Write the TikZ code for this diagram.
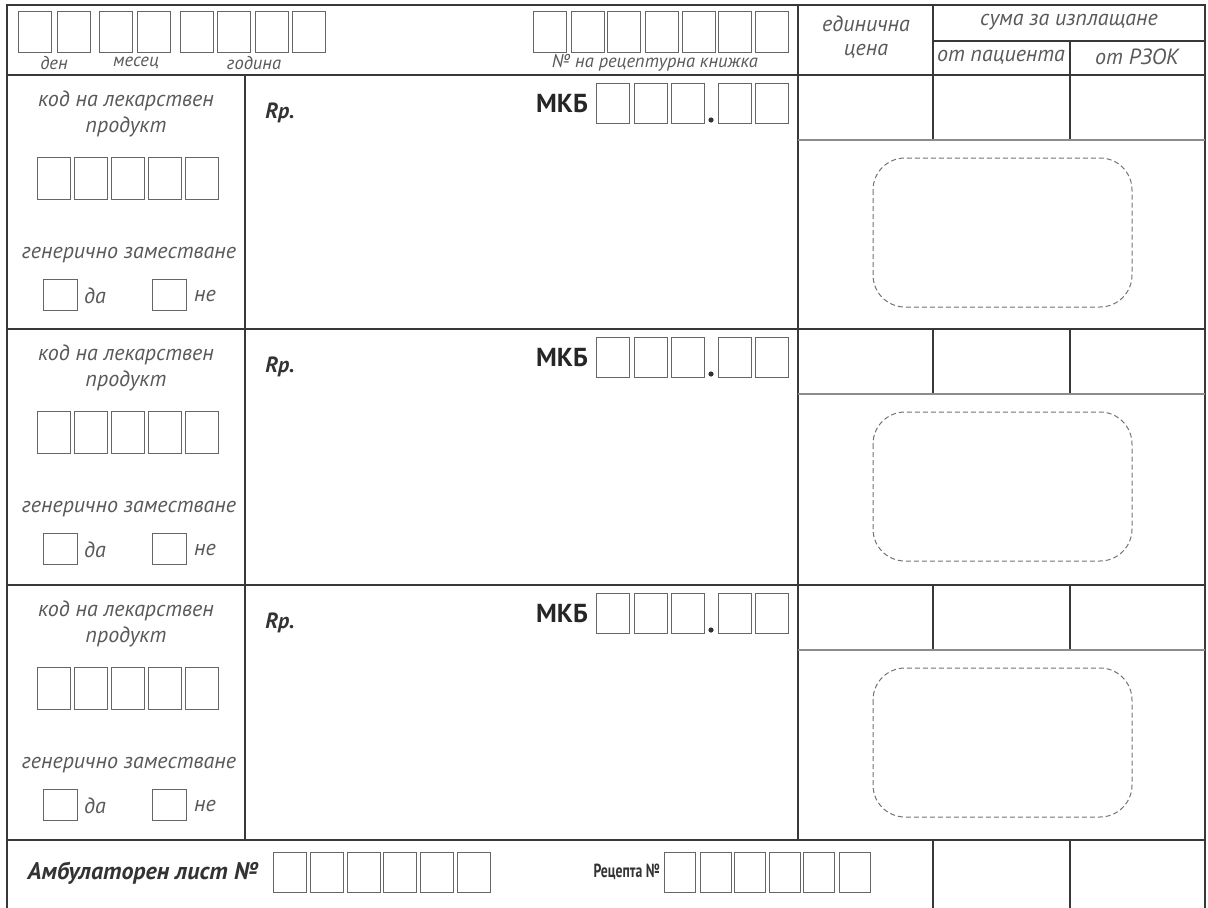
\documentclass[tikz,border=0pt]{standalone}
\usepackage{fontspec}
\setmainfont{PT Sans}
\begin{document}
\begin{tikzpicture}[x=1pt,y=-1pt,
  grid/.style={draw=black!78,line width=1.3pt},
  band/.style={draw=black!45,line width=2.6pt},
  ibox/.style={draw=black!60,line width=1pt,minimum width=33pt,minimum height=41pt,inner sep=0pt,outer sep=0pt},
  rbox/.style={ibox,minimum width=31pt,minimum height=40pt},
  ybox/.style={ibox,minimum width=34pt,minimum height=31pt},
  lbl/.style={font=\fontsize{22}{24}\selectfont\itshape,text=black!65,inner sep=0pt},
  slbl/.style={font=\fontsize{18.5}{20}\selectfont\itshape,text=black!65,inner sep=0pt},
  oval/.style={draw=black!55,line width=1pt,dash pattern=on 5pt off 3pt,rounded corners=32pt}
]
\useasboundingbox (0,0) rectangle (1208,908);
% ---- outer frame and main grid
\draw[grid] (7,908) -- (7,5) -- (1205,5) -- (1205,908);
\draw[grid] (7,75) -- (1205,75);
\draw[grid] (933,41) -- (1205,41);
\draw[grid] (798,5) -- (798,840);
\draw[grid] (933,5) -- (933,75);
\draw[grid] (1070,41) -- (1070,75);
\draw[grid] (245,75) -- (245,840);
\draw[grid] (7,840) -- (1205,840);
\draw[grid] (933,840) -- (933,908);
\draw[grid] (1070,840) -- (1070,908);
% ---- header
\foreach \i/\x in {1/18,2/57,3/99,4/137,5/180,6/217,7/255,8/292}{
  \node[ibox] (d\i) at (\x+16.5,31.5) {};
}
\node[slbl] (lden) at (54,63) {ден};
\node[slbl] (lmes) at (136,63) {месец};
\node[slbl] (lgod) at (254,63) {година};
\foreach \i/\x in {1/533,2/571,3/607,4/645,5/682,6/718,7/755}{
  \node[ibox] (k\i) at (\x+16.5,31.5) {};
}
\node[slbl] (lkn) at (655,63) {№ на рецептурна книжка};
\node[lbl] (led) at (866,24) {единична};
\node[lbl] (lce) at (866,51) {цена};
\node[lbl] (lsu) at (1069,22) {сума за изплащане};
\node[lbl] (lpa) at (1001,57) {от пациента};
\node[lbl] (lrz) at (1137,57) {от РЗОК};
% ---- three prescription rows
\foreach \r/\t/\b in {1/75/329,2/329/585,3/585/840}{
  \draw[grid] (7,\b) -- (1205,\b);
  \draw[grid] (933,\t) -- (933,\t+65);
  \draw[grid] (1070,\t) -- (1070,\t+65);
  \draw[band] (798,\t+65) -- (1205,\t+65);
  \node[lbl] (kod\r) at (126,\t+26) {код на лекарствен};
  \node[lbl] (pro\r) at (126,\t+52) {продукт};
  \foreach \j/\x in {1/37,2/74,3/111,4/148,5/185}{
    \node[ibox,minimum height=42pt] (c\r\j) at (\x+16.5,\t+103) {};
  }
  \node[lbl] (gen\r) at (129,\t+180) {генерично заместване};
  \node[ybox] (yes\r) at (60,\t+219.5) {};
  \node[lbl] (lyes\r) at (95,\t+221) {да};
  \node[ybox] (no\r) at (169,\t+219.5) {};
  \node[lbl] (lno\r) at (205,\t+221) {не};
  \node[font=\fontsize{22}{24}\selectfont\bfseries\itshape,text=black!80,inner sep=0pt] (rp\r) at (280,\t+38) {Rp.};
  \node[font=\fontsize{26}{28}\selectfont\bfseries,text=black!85,inner sep=0pt] (mkb\r) at (562,\t+29) {МКБ};
  \foreach \j/\x in {1/596,2/634,3/671,4/718,5/755}{
    \node[ibox,minimum height=40pt] (m\r\j) at (\x+16.5,\t+28) {};
  }
  \fill[black!80] (711,\t+45) circle (2.6pt);
  \draw[oval] (873,\t+83) rectangle (1132,\t+232);
}
% ---- bottom row
\node[font=\fontsize{24}{26}\selectfont\bfseries\itshape,text=black!80,inner sep=0pt] (amb) at (143,873) {Амбулаторен лист №};
\foreach \i/\x in {1/273,2/310,3/347,4/383,5/420,6/457}{
  \node[ibox,minimum height=40pt] (a\i) at (\x+16.5,872) {};
}
\node[anchor=east,inner sep=0pt,text=black!80] (rec) at (660,872) {\scalebox{0.72}[1]{\fontsize{19}{21}\selectfont\bfseries Рецепта №}};
\foreach \i/\x in {1/664,2/700,3/734,4/769,5/803,6/839}{
  \node[rbox] (r\i) at (\x+15.5,872) {};
}
\end{tikzpicture}
\end{document}
